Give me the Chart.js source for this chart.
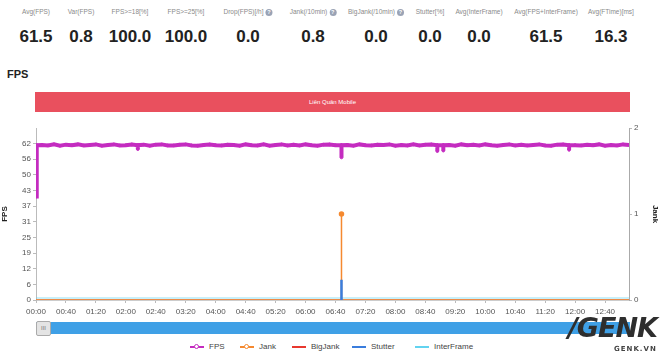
<html>
<head>
  <meta charset="utf-8">
  <title>FPS</title>
  <script src="https://cdn.jsdelivr.net/npm/chart.js@4"></script>
  <style type="text/css">
    body { margin: 0; width: 660px; height: 355px; background: #fff; position: relative; overflow: hidden;
           font-family: "Liberation Sans", Arial, sans-serif; }
    .stat-label { position: absolute; top: 8px; font-size: 6.5px; color: #8a8a8a; white-space: nowrap; transform: translateX(-50%); }
    .stat-value { position: absolute; top: 27px; font-size: 17px; font-weight: bold; color: #222; transform: translateX(-50%); }
    .help { display: inline-block; width: 7px; height: 7px; border-radius: 50%; background: #9aa3b5; color: #fff;
            font-size: 5.5px; line-height: 7px; text-align: center; margin-left: 2px; vertical-align: middle; font-weight: bold; }
    #title { position: absolute; left: 7px; top: 68px; font-size: 11px; font-weight: bold; color: #222; }
    #bar { position: absolute; left: 35px; top: 92px; width: 595px; height: 20px; background: #e9505e;
           color: #fff; font-size: 6px; text-align: center; line-height: 20px; }
    #chart { position: absolute; left: 0; top: 118px; }
    #slider { position: absolute; left: 36px; top: 322px; width: 594px; height: 12px; background: #3fa0e6; }
    #handle { position: absolute; left: 36px; top: 321px; width: 15px; height: 15px; background: #e4e4e4;
              border: 1px solid #aaa; border-radius: 2px; box-sizing: border-box; font-size: 6px; color: #777;
              text-align: center; line-height: 13px; }
    #legend { position: absolute; top: 342px; left: 0; width: 660px; font-size: 8px; color: #444; }
    .leg { position: absolute; white-space: nowrap; }
    .leg i { display: inline-block; width: 14px; height: 2px; vertical-align: middle; margin-right: 5px; position: relative; }
    .leg i b { position: absolute; left: 4px; top: -2px; width: 5px; height: 5px; border-radius: 50%; background: #fff; border: 1px solid; box-sizing: border-box; }
    #wm { position: absolute; left: 568px; top: 312px; font: italic 900 27px "DejaVu Sans", sans-serif; color: #2e2e2e; letter-spacing: -1px; }
    #wm2 { position: absolute; left: 614px; top: 345px; font: bold 7px "DejaVu Sans", sans-serif; color: #444; letter-spacing: 1px; }
  </style>
</head>
<body>
  <div id="stats"></div>
  <div id="title">FPS</div>
  <div id="bar">Liên Quân Mobile</div>
  <canvas id="chart" width="660" height="200"></canvas>
  <div id="slider"></div>
  <div id="handle">III</div>
  <div id="legend"></div>
  <div id="wm">/GENK</div>
  <div id="wm2">GENK.VN</div>
  <script>
    // summary numbers on top
    const statLabels = ["Avg(FPS)", "Var(FPS)", "FPS>=18[%]", "FPS>=25[%]", "Drop(FPS)[/h]", "Jank(/10min)", "BigJank(/10min)", "Stutter[%]", "Avg(InterFrame)", "Avg(FPS+InterFrame)", "Avg(FTime)[ms]"];
    const statValues = ["61.5", "0.8", "100.0", "100.0", "0.0", "0.8", "0.0", "0.0", "0.0", "61.5", "16.3"];
    const statHelp = [false, false, false, false, true, true, true, false, false, false, false];
    const statX = [36, 81, 130, 186, 248, 313, 376, 430, 479, 546, 611];

    // series
    const seriesNames = ["FPS", "Jank", "BigJank", "Stutter", "InterFrame"];
    const colors = ["#c42cc0", "#f5892f", "#e8382f", "#3a7ddd", "#62d3f0"];

    const fpsTime = [0, 1, 8, 16, 24, 32, 40, 48, 56, 64, 72, 80, 88, 96, 104, 112, 120, 128, 136, 136, 136, 144, 152, 160, 168, 176, 184, 192, 200,
      208, 216, 224, 232, 240, 248, 256, 264, 272, 280, 288, 296, 304, 312, 320, 328, 336, 344, 352, 360, 368, 376, 384, 392, 400,
      408, 408, 408, 416, 424, 432, 440, 448, 456, 464, 472, 480, 488, 496, 504, 512, 520, 528, 536, 536, 536, 544, 544, 544, 552, 560,
      568, 576, 584, 592, 600, 608, 616, 624, 632, 640, 648, 656, 664, 672, 680, 688, 696, 704, 712, 712, 712, 720, 728, 736, 744, 752,
      760, 768, 776, 784, 792];
    const fpsValue = [41, 61.4, 61.5, 61.3, 61.7, 61.2, 61.6, 61.4, 61.7, 61.3, 61.5, 61.7, 61.2, 61.5, 61.7, 61.3, 61.4, 61.7, 61.4, 59.8, 61.4, 61.6, 61.2, 61.6, 61.7, 61.3, 61.3, 61.6, 61.7,
      61.3, 61.2, 61.5, 61.7, 61.4, 61.3, 61.6, 61.5, 61.2, 61.7, 61.4, 61.3, 61.7, 61.2, 61.5, 61.7, 61.3, 61.6, 61.3, 61.7, 61.4, 61.2, 61.6, 61.7, 61.4,
      61.4, 56.5, 61.4, 61.5, 61.2, 61.7, 61.4, 61.3, 61.6, 61.5, 61.7, 61.2, 61.5, 61.3, 61.7, 61.3, 61.6, 61.7, 61.4, 59, 61.4, 61.4, 59.2, 61.4, 61.5, 61.2,
      61.7, 61.4, 61.6, 61.3, 61.7, 61.4, 61.2, 61.5, 61.7, 61.3, 61.6, 61.3, 61.5, 61.7, 61.3, 61.2, 61.6, 61.7, 61.4, 59.5, 61.4, 61.4, 61.3, 61.6, 61.4, 61.7,
      61.2, 61.5, 61.3, 61.7, 61.5];

    const jankTime = [0, 408, 408, 408, 792];
    const jankValue = [0, 0, 1, 0, 0];
    const bigJankTime = [0, 792];
    const bigJankValue = [0, 0];
    const stutterTime = [0, 408, 408, 408, 792];
    const stutterValue = [0, 0, 8, 0, 0];
    const interTime = [0, 792];
    const interValue = [0, 0];

    const fpsTicks = [0, 6.2, 12.4, 18.6, 24.8, 31, 37.2, 43.4, 49.6, 55.8, 62];
    const timeTicks = [0, 40, 80, 120, 160, 200, 240, 280, 320, 360, 400, 440, 480, 520, 560, 600, 640, 680, 720, 760];

    const stats = document.getElementById("stats");
    statLabels.forEach((lab, i) => {
      const l = document.createElement("div");
      l.className = "stat-label";
      l.style.left = statX[i] + "px";
      l.innerHTML = lab.replace(/</g, "&lt;").replace(/>/g, "&gt;") + (statHelp[i] ? '<span class="help">?</span>' : "");
      stats.appendChild(l);
      const v = document.createElement("div");
      v.className = "stat-value";
      v.style.left = statX[i] + "px";
      v.textContent = statValues[i];
      stats.appendChild(v);
    });

    const legX = [190, 240, 292, 352, 415];
    const legend = document.getElementById("legend");
    seriesNames.forEach((name, i) => {
      const d = document.createElement("div");
      d.className = "leg";
      d.style.left = legX[i] + "px";
      const dot = i < 2 ? `<b style="border-color:${colors[i]}"></b>` : "";
      d.innerHTML = `<i style="background:${colors[i]}">${dot}</i>${name}`;
      legend.appendChild(d);
    });

    const pts = (xs, ys) => xs.map((x, i) => ({ x: x, y: ys[i] }));
    const mmss = (s) => String(Math.floor(s / 60)).padStart(2, "0") + ":" + String(s % 60).padStart(2, "0");
    // only the rising part of the stutter line is visible, its flat part sits under Jank
    const flatHidden = (ctx) => (ctx.p0.parsed.y === 0 && ctx.p1.parsed.y === 0 ? "transparent" : undefined);

    new Chart(document.getElementById("chart"), {
      type: "line",
      data: {
        datasets: [
          { label: seriesNames[0], data: pts(fpsTime, fpsValue), yAxisID: "y", borderColor: colors[0], backgroundColor: colors[0],
            borderWidth: 4, pointRadius: 1.3, pointBorderWidth: 1, order: 0 },
          { label: seriesNames[3], data: pts(stutterTime, stutterValue), yAxisID: "y", borderColor: colors[3],
            borderWidth: 2.5, pointRadius: 0, order: 1, segment: { borderColor: flatHidden } },
          { label: seriesNames[1], data: pts(jankTime, jankValue), yAxisID: "y1", borderColor: colors[1], backgroundColor: colors[1],
            borderWidth: 1.5, pointRadius: (c) => (c.raw && c.raw.y > 0 ? 2 : 0), order: 2 },
          { label: seriesNames[2], data: pts(bigJankTime, bigJankValue), yAxisID: "y1", borderColor: colors[2],
            borderWidth: 1, pointRadius: 0, order: 3 },
          { label: seriesNames[4], data: pts(interTime, interValue), yAxisID: "y", borderColor: "rgba(98,211,240,0.35)",
            borderWidth: 6, pointRadius: 0, order: 4 }
        ]
      },
      options: {
        responsive: false,
        animation: false,
        devicePixelRatio: 1,
        layout: { padding: { top: 10 } },
        plugins: { legend: { display: false }, tooltip: { enabled: false } },
        scales: {
          x: {
            type: "linear", min: 0, max: 792,
            afterBuildTicks: (s) => { s.ticks = timeTicks.map((v) => ({ value: v })); },
            afterFit: (s) => { s.height = 18; },
            ticks: { callback: (v) => mmss(v), font: { size: 8 }, color: "#555", padding: 4, maxRotation: 0, autoSkip: false },
            grid: { drawOnChartArea: false, tickLength: 3, color: "#bbb" },
            border: { color: "#ccc" }
          },
          y: {
            position: "left", min: 0, max: 68.2,
            afterBuildTicks: (s) => { s.ticks = fpsTicks.map((v) => ({ value: v })); },
            afterFit: (s) => { s.width = 36; },
            ticks: { callback: (v) => Math.round(v), font: { size: 8 }, color: "#555", padding: 2 },
            title: { display: true, text: "FPS", font: { size: 8, weight: "bold" }, color: "#222", padding: 0 },
            grid: { drawOnChartArea: false, tickLength: 3, color: "#bbb" },
            border: { color: "#bbb" }
          },
          y1: {
            position: "right", min: 0, max: 2,
            ticks: { stepSize: 1, font: { size: 8 }, color: "#555", padding: 2 },
            afterFit: (s) => { s.width = 31; },
            title: { display: true, text: "Jank", font: { size: 8, weight: "bold" }, color: "#222", padding: 0 },
            grid: { drawOnChartArea: false, tickLength: 3, color: "#bbb" },
            border: { color: "#aaa" }
          }
        }
      }
    });
  </script>
</body>
</html>
